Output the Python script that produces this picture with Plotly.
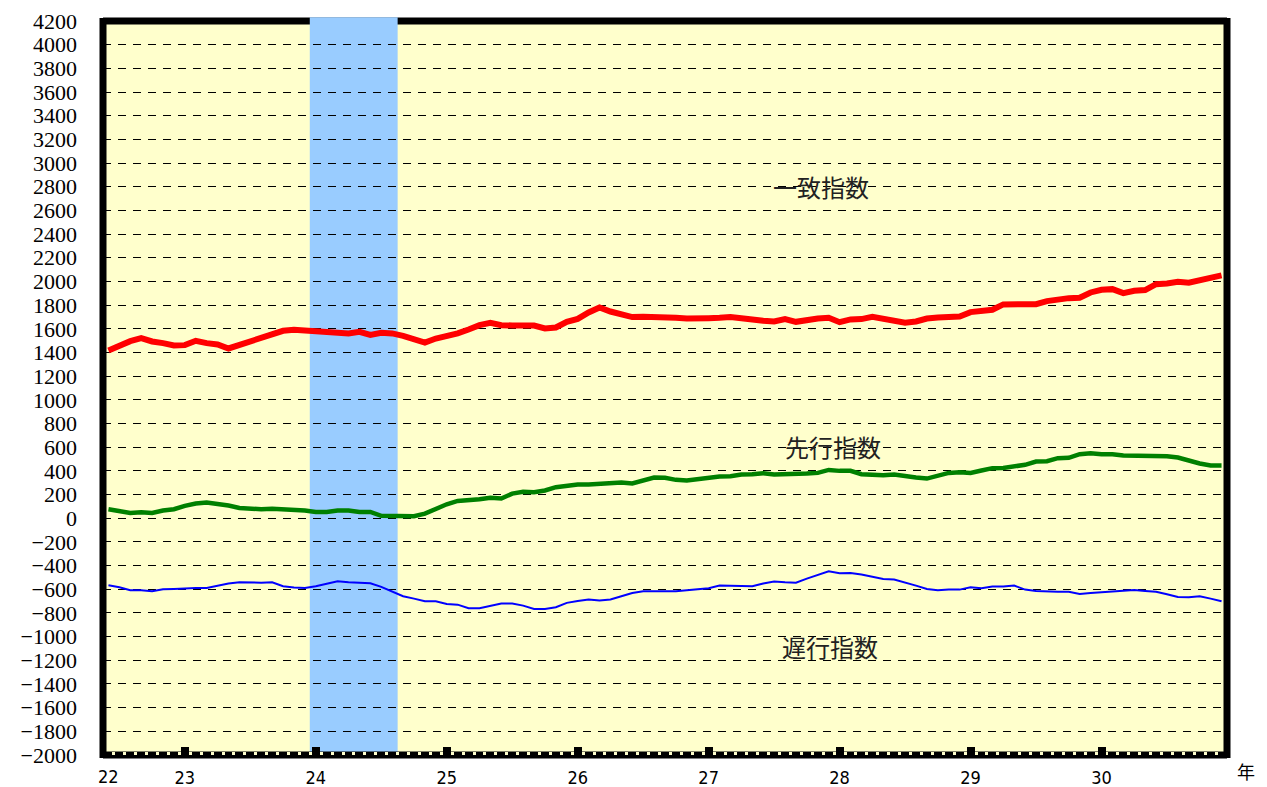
import plotly.graph_objects as go

# month index (0 = year-23 tick), one point per month
months = list(range(-7, 96))

coincident = [1417, 1456, 1496, 1521, 1493, 1479, 1459, 1462, 1499, 1479,
              1468, 1434, 1465, 1493, 1532, 1555, 1583, 1592, 1586, 1580,
              1572, 1563, 1561, 1575, 1549, 1566, 1561, 1541, 1518, 1484,
              1518, 1538, 1561, 1594, 1631, 1651, 1631, 1628, 1634, 1628,
              1603, 1611, 1659, 1684, 1738, 1780, 1746, 1727, 1699, 1701, 1701,
              1696, 1693, 1687, 1684, 1690, 1693, 1699, 1690, 1673, 1668,
              1662, 1682, 1659, 1679, 1687, 1693, 1656, 1679, 1682, 1701,
              1684, 1676, 1651, 1662, 1687, 1696, 1699, 1704, 1741, 1752,
              1761, 1806, 1806, 1803, 1808, 1834, 1848, 1859, 1862, 1907,
              1930, 1935, 1901, 1921, 1927, 1977, 1983, 1997, 1989, 2008, 2028, 2051]

leading = [76, 62, 45, 51, 45, 65, 76, 104, 124, 132,
           121, 107, 87, 79, 76, 79, 76, 76, 65, 53,
           53, 65, 65, 53, 53, 20, 17, 17, 17, 39,
           79, 118, 146, 158, 161, 172, 166, 208, 223, 220,
           234, 262, 276, 285, 285, 290, 299, 301, 293, 321, 344,
           341, 324, 318, 332, 344, 352, 355, 369, 372, 380,
           369, 369, 375, 377, 383, 408, 400, 400, 372, 363,
           363, 369, 352, 344, 335, 355, 383, 389, 383, 403,
           423, 425, 439, 451, 479, 482, 507, 510, 541, 549,
           541, 541, 530, 530, 524, 524, 524, 513, 487, 462, 445, 445]

lagging = [-566, -583, -608, -608, -617, -600, -597, -592, -589, -589,
           -569, -552, -541, -544, -544, -541, -575, -586, -589, -575,
           -552, -532, -541, -544, -549, -580, -617, -659, -679, -701,
           -701, -724, -730, -761, -761, -738, -721, -721, -738, -766,
           -766, -752, -715, -699, -687, -696, -687, -659, -631, -617, -620,
           -617, -617, -608, -597, -592, -569, -572, -569, -575, -552,
           -535, -541, -544, -510, -476, -448, -465, -462, -476, -493,
           -513, -518, -541, -569, -597, -608, -603, -603, -583, -592,
           -577, -577, -569, -603, -614, -620, -622, -622, -639, -631,
           -625, -622, -614, -606, -614, -622, -642, -665, -668, -659, -679, -701]

year_ticks = [0, 12, 24, 36, 48, 60, 72, 84]
year_labels = ["23", "24", "25", "26", "27", "28", "29", "30"]
first_label = "22"
recession = [11.45, 19.5]

NARROW = "DejaVu Sans Condensed, Noto Sans CJK JP, sans-serif"
SERIF = "Liberation Serif, Noto Serif CJK JP, DejaVu Serif, serif"
CJK = "Noto Sans CJK JP"

fig = go.Figure()
fig.add_trace(go.Scatter(x=months, y=lagging, mode="lines",
                         line=dict(color="#0000FF", width=2), hoverinfo="skip"))
fig.add_trace(go.Scatter(x=months, y=leading, mode="lines",
                         line=dict(color="#008000", width=4.5), hoverinfo="skip"))
fig.add_trace(go.Scatter(x=months, y=coincident, mode="lines",
                         line=dict(color="#FF0000", width=6), hoverinfo="skip"))

frame = dict(color="black", width=7)
shapes = [
    dict(type="line", xref="paper", yref="paper", x0=0, x1=1, y0=1, y1=1, line=frame, layer="between"),
    dict(type="line", xref="paper", yref="paper", x0=0, x1=0, y0=-0.004, y1=1.004, line=frame, layer="between"),
    dict(type="line", xref="paper", yref="paper", x0=1, x1=1, y0=-0.004, y1=1.004, line=frame, layer="between"),
    dict(type="rect", xref="x", yref="paper", x0=recession[0], x1=recession[1], y0=0, y1=1.005,
         fillcolor="#99CCFF", line=dict(width=0), layer="between"),
    dict(type="line", xref="paper", yref="paper", x0=0, x1=1, y0=0, y1=0, line=frame, layer="between"),
]

W, H = 1267, 787
ml, mr, mt, mb = 103, 39.5, 21, 32
pw, ph = W - ml - mr, H - mt - mb

annots = [
    dict(x=58.3, y=2800, xref="x", yref="y", text="一致指数", showarrow=False,
         font=dict(family=CJK, size=24, color="#222222")),
    dict(x=59.4, y=610, xref="x", yref="y", text="先行指数", showarrow=False,
         font=dict(family=CJK, size=24, color="#222222")),
    dict(x=59.1, y=-1080, xref="x", yref="y", text="遅行指数", showarrow=False,
         font=dict(family=CJK, size=24, color="#222222")),
    dict(x=months[0], y=(H - mb - 777) / ph, xref="x", yref="paper", xanchor="center", yanchor="middle",
         text=first_label, showarrow=False, font=dict(family=NARROW, size=18, color="black")),
    dict(x=(1247 - ml) / pw, y=(H - mb - 771) / ph, xref="paper", yref="paper", xanchor="center",
         yanchor="middle", text="年", showarrow=False, font=dict(family=CJK, size=18, color="black")),
]

fig.update_layout(
    template="none",
    width=W, height=H,
    margin=dict(l=ml, r=mr, t=mt, b=mb, pad=0),
    paper_bgcolor="white",
    plot_bgcolor="#FFFFCC",
    showlegend=False,
    shapes=shapes,
    annotations=annots,
    xaxis=dict(range=[-7.5, 95.5], tickmode="array", tickvals=year_ticks, ticktext=year_labels,
               ticks="inside", ticklen=8, tickwidth=8, tickcolor="black",
               minor=dict(tickmode="linear", tick0=0.5, dtick=1, ticks="inside", ticklen=3,
                          tickwidth=3, tickcolor="#FFFFCC", showgrid=False),
               showgrid=False, zeroline=False, showline=False, automargin=False,
               ticklabelstandoff=10,
               tickfont=dict(family=NARROW, size=18, color="black")),
    yaxis=dict(range=[-2000, 4200], tickmode="linear", tick0=0, dtick=200,
               showgrid=True, gridcolor="black", gridwidth=1, griddash="8px,7px",
               zeroline=False, showline=False, ticks="", automargin=False,
               ticklabelstandoff=25,
               tickfont=dict(family=SERIF, size=22, color="black")),
)

fig.write_html("out.html", config={"displayModeBar": False},
               post_script="document.body.style.margin='0';document.body.style.padding='0';document.documentElement.style.overflow='hidden';")
